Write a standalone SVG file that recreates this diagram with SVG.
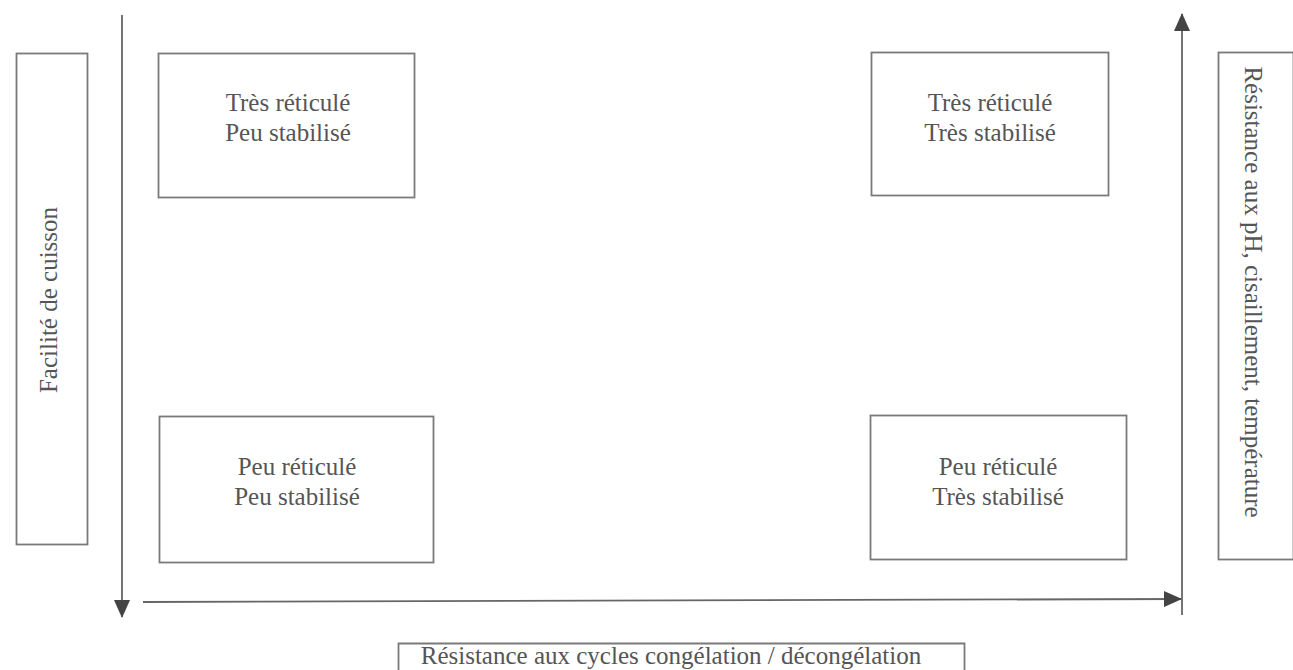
<svg xmlns="http://www.w3.org/2000/svg" width="1293" height="670" viewBox="0 0 1293 670">
<style>
.box{fill:none;stroke:#7a7a7a;stroke-width:1.8}
.t{font-family:"Liberation Serif","Times New Roman",serif;font-size:25px;fill:#555;text-anchor:middle}
.ax{stroke:#666;stroke-width:1.8;fill:none}
</style>
<defs>
<marker id="ahb" viewBox="0 0 18 16" refX="17" refY="8" markerWidth="18" markerHeight="16" markerUnits="userSpaceOnUse" orient="auto">
<path d="M0,0 L18,8 L0,16 z" fill="#444"/>
</marker>
</defs>
<rect width="1293" height="670" fill="#fff"/>
<g id="connectors">
<line class="ax" x1="122" y1="15" x2="122" y2="617" marker-end="url(#ahb)"/>
<line class="ax" x1="143" y1="602" x2="1181" y2="599" marker-end="url(#ahb)"/>
<line class="ax" x1="1182" y1="615" x2="1182" y2="14" marker-end="url(#ahb)"/>
</g>
<g id="label-left">
<rect class="box" x="16.5" y="53.5" width="71" height="491"/>
<text class="t" transform="translate(57,300) rotate(-90)">Facilité de cuisson</text>
</g>
<g id="label-right">
<rect class="box" x="1218.5" y="52.5" width="75" height="507"/>
<text class="t" transform="translate(1245,292) rotate(90)">Résistance aux pH, cisaillement, température</text>
</g>
<g id="label-bottom">
<path class="box" d="M398.5,672 V643.5 H964.5 V672"/>
<text class="t" x="671" y="664">Résistance aux cycles congélation / décongélation</text>
</g>
<g id="box-tl">
<rect class="box" x="158.5" y="53.5" width="256" height="144"/>
<text class="t" x="288" y="111">Très réticulé</text>
<text class="t" x="288" y="141">Peu stabilisé</text>
</g>
<g id="box-tr">
<rect class="box" x="871.5" y="52.5" width="237" height="143"/>
<text class="t" x="990" y="111">Très réticulé</text>
<text class="t" x="990" y="141">Très stabilisé</text>
</g>
<g id="box-bl">
<rect class="box" x="159.5" y="416.5" width="274" height="146"/>
<text class="t" x="297" y="475">Peu réticulé</text>
<text class="t" x="297" y="505">Peu stabilisé</text>
</g>
<g id="box-br">
<rect class="box" x="870.5" y="415.5" width="256" height="144"/>
<text class="t" x="998" y="475">Peu réticulé</text>
<text class="t" x="998" y="505">Très stabilisé</text>
</g>
</svg>
